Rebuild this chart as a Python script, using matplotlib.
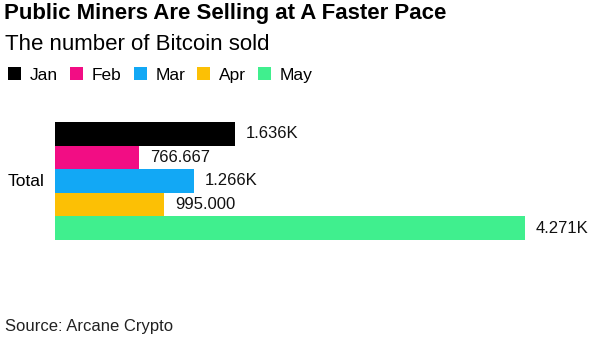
import numpy as np
import matplotlib.pyplot as plt

plt.rcParams['font.family'] = ['Liberation Sans', 'DejaVu Sans']

months = ['Jan', 'Feb', 'Mar', 'Apr', 'May']
sold = [1636, 766.667, 1266, 995, 4271]
labels = ['1.636K', '766.667', '1.266K', '995.000', '4.271K']
colors = ['#000000', '#f20d84', '#12a8f5', '#fcc005', '#40ef8e']

W, H = 595, 342
fig = plt.figure(figsize=(W / 100, H / 100), dpi=100)

# bar band: x 55..525 px, y 122..240 px from top
ax = fig.add_axes([55 / W, 1 - 240 / H, 470 / W, 118 / H])
for i, (m, v, c) in enumerate(zip(months, sold, colors)):
    ax.barh(i, v, height=1.0, color=c, label=m)
    ax.text(v + 0.023 * max(sold), i, labels[i], va='center', ha='left',
            fontsize=12, color='#111111')

ax.set_xlim(0, max(sold))
ax.set_ylim(4.5, -0.5)
ax.axis('off')

fig.text(8 / W, 1 - 181 / H, 'Total', fontsize=12.5, va='center', ha='left')

fig.text(4 / W, 1 - 14 / H, 'Public Miners Are Selling at A Faster Pace',
         fontsize=16, fontweight='bold', va='center', ha='left')
fig.text(5 / W, 1 - 44 / H, 'The number of Bitcoin sold',
         fontsize=16, va='center', ha='left')
fig.text(5 / W, 1 - 327 / H, 'Source: Arcane Crypto',
         fontsize=12, va='center', ha='left', color='#222222')

handles, hl = ax.get_legend_handles_labels()
fig.legend(handles, hl, ncol=5, loc='center left',
           bbox_to_anchor=(1 / W, 1 - 75 / H), frameon=False,
           fontsize=12.5, handlelength=0.75, handleheight=0.75,
           handletextpad=0.5, columnspacing=0.7, borderaxespad=0)

fig.savefig('out.png', dpi=100)
